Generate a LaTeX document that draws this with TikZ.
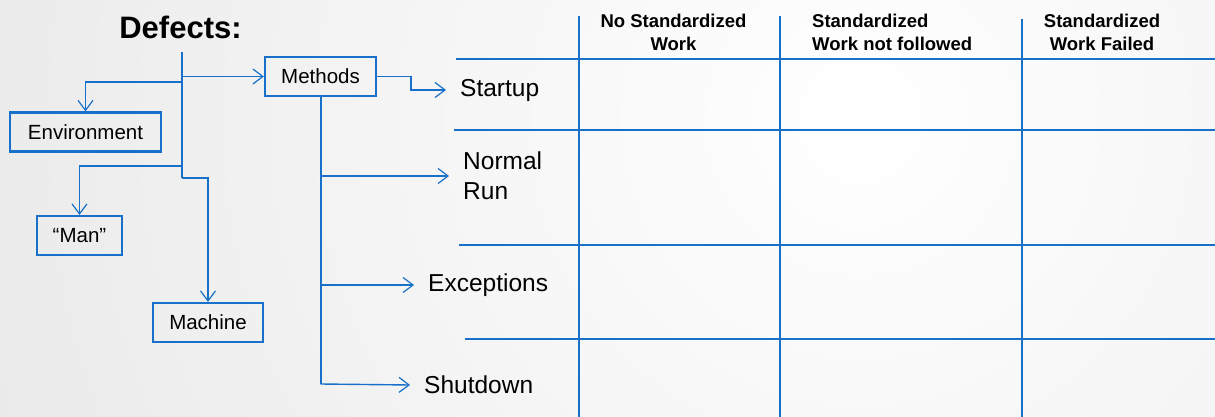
\documentclass[tikz,border=0pt]{standalone}
\usepackage{fontspec}
\setmainfont{Liberation Sans}
\usetikzlibrary{arrows.meta}
\definecolor{lineblue}{RGB}{24,112,200}
\begin{document}
\begin{tikzpicture}[x=1pt,y=-1pt,
  box/.style={draw=lineblue, line width=2.2pt, minimum height=39pt, inner sep=0pt,
              font=\fontsize{20.5}{24}\selectfont},
  conn/.style={draw=lineblue, line width=1.4pt,
               -{Straight Barb[length=10pt,width=15pt,line width=1.2pt]}},
  trunk/.style={draw=lineblue, line width=2pt},
  phase/.style={inner sep=0pt, anchor=west, font=\fontsize{24.5}{30}\selectfont, align=left},
  header/.style={inner sep=0pt, font=\fontsize{18.5}{23}\selectfont\bfseries},
  tablerule/.style={draw=lineblue, line width=2.6pt},
  tablecol/.style={draw=lineblue, line width=1.8pt}]

% background
\useasboundingbox (0,0) rectangle (1215,417);
\begin{scope}
  \clip (0,0) rectangle (1215,417);
  \shade[inner color=white, outer color=gray!34] (860,120) circle (1900);
\end{scope}

% title and the four categories
\node[font=\fontsize{31}{37}\selectfont\bfseries] (defects) at (180.5,27) {Defects:};
\node[box, minimum width=111pt] (methods) at (320.5,76.5) {Methods};
\node[box, minimum width=151pt] (env)     at (85.5,132)   {Environment};
\node[box, minimum width=85pt]  (man)     at (79.5,235.5) {“Man”};
\node[box, minimum width=110pt] (machine) at (208,322.5)  {Machine};

% trunk and its branches
\coordinate (trunktop) at (181.5,52);
\coordinate (trunkbot) at (181.5,178);
\coordinate (jmethods) at (181.5,76.5);
\coordinate (jenv)     at (181.5,82);
\coordinate (jman)     at (181.5,166);
\draw[trunk] (trunktop) -- (trunkbot);
\draw[conn] (trunkbot) -| (machine.north);
\draw[conn] (jmethods) -- (methods.west);
\draw[conn] (jenv) -| (env.north);
\draw[conn] (jman) -| (man.north);

% process phases
\node[phase] (startup)    at (460,90)  {Startup};
\node[phase] (normalrun)  at (463,176) {Normal\\Run};
\node[phase] (exceptions) at (428,285) {Exceptions};
\node[phase] (shutdown)   at (424,385) {Shutdown};

\coordinate (mbottom) at (320.5,384);
\draw[conn] (methods.east) -- (411,76.5) |- ([xshift=-14pt]startup.west);
\draw[trunk] (methods.south) -- (mbottom);
\draw[conn] (mbottom) -- ([xshift=-14pt]shutdown.west);
\draw[conn] (methods.south |- normalrun.west) -- ([xshift=-14pt]normalrun.west);
\draw[conn] (methods.south |- exceptions.west) -- ([xshift=-14pt]exceptions.west);

% table grid
\draw[tablerule] (456,59)  -- (1215,59);
\draw[tablerule] (454,130) -- (1215,130);
\draw[tablerule] (459,245) -- (1215,245);
\draw[tablerule] (465,339) -- (1215,339);
\draw[tablecol] (579,16)  -- (579,417);
\draw[tablecol] (780,16)  -- (780,417);
\draw[tablecol] (1022,19) -- (1022,417);

% column headers
\node[header, align=center] (h1) at (673.5,32.5) {No Standardized\\Work};
\node[header, align=left, anchor=west] (h2) at (812,32.5) {Standardized\\Work not followed};
\node[header, align=center] (h3) at (1102,32.5) {Standardized\\Work Failed};
\end{tikzpicture}
\end{document}
